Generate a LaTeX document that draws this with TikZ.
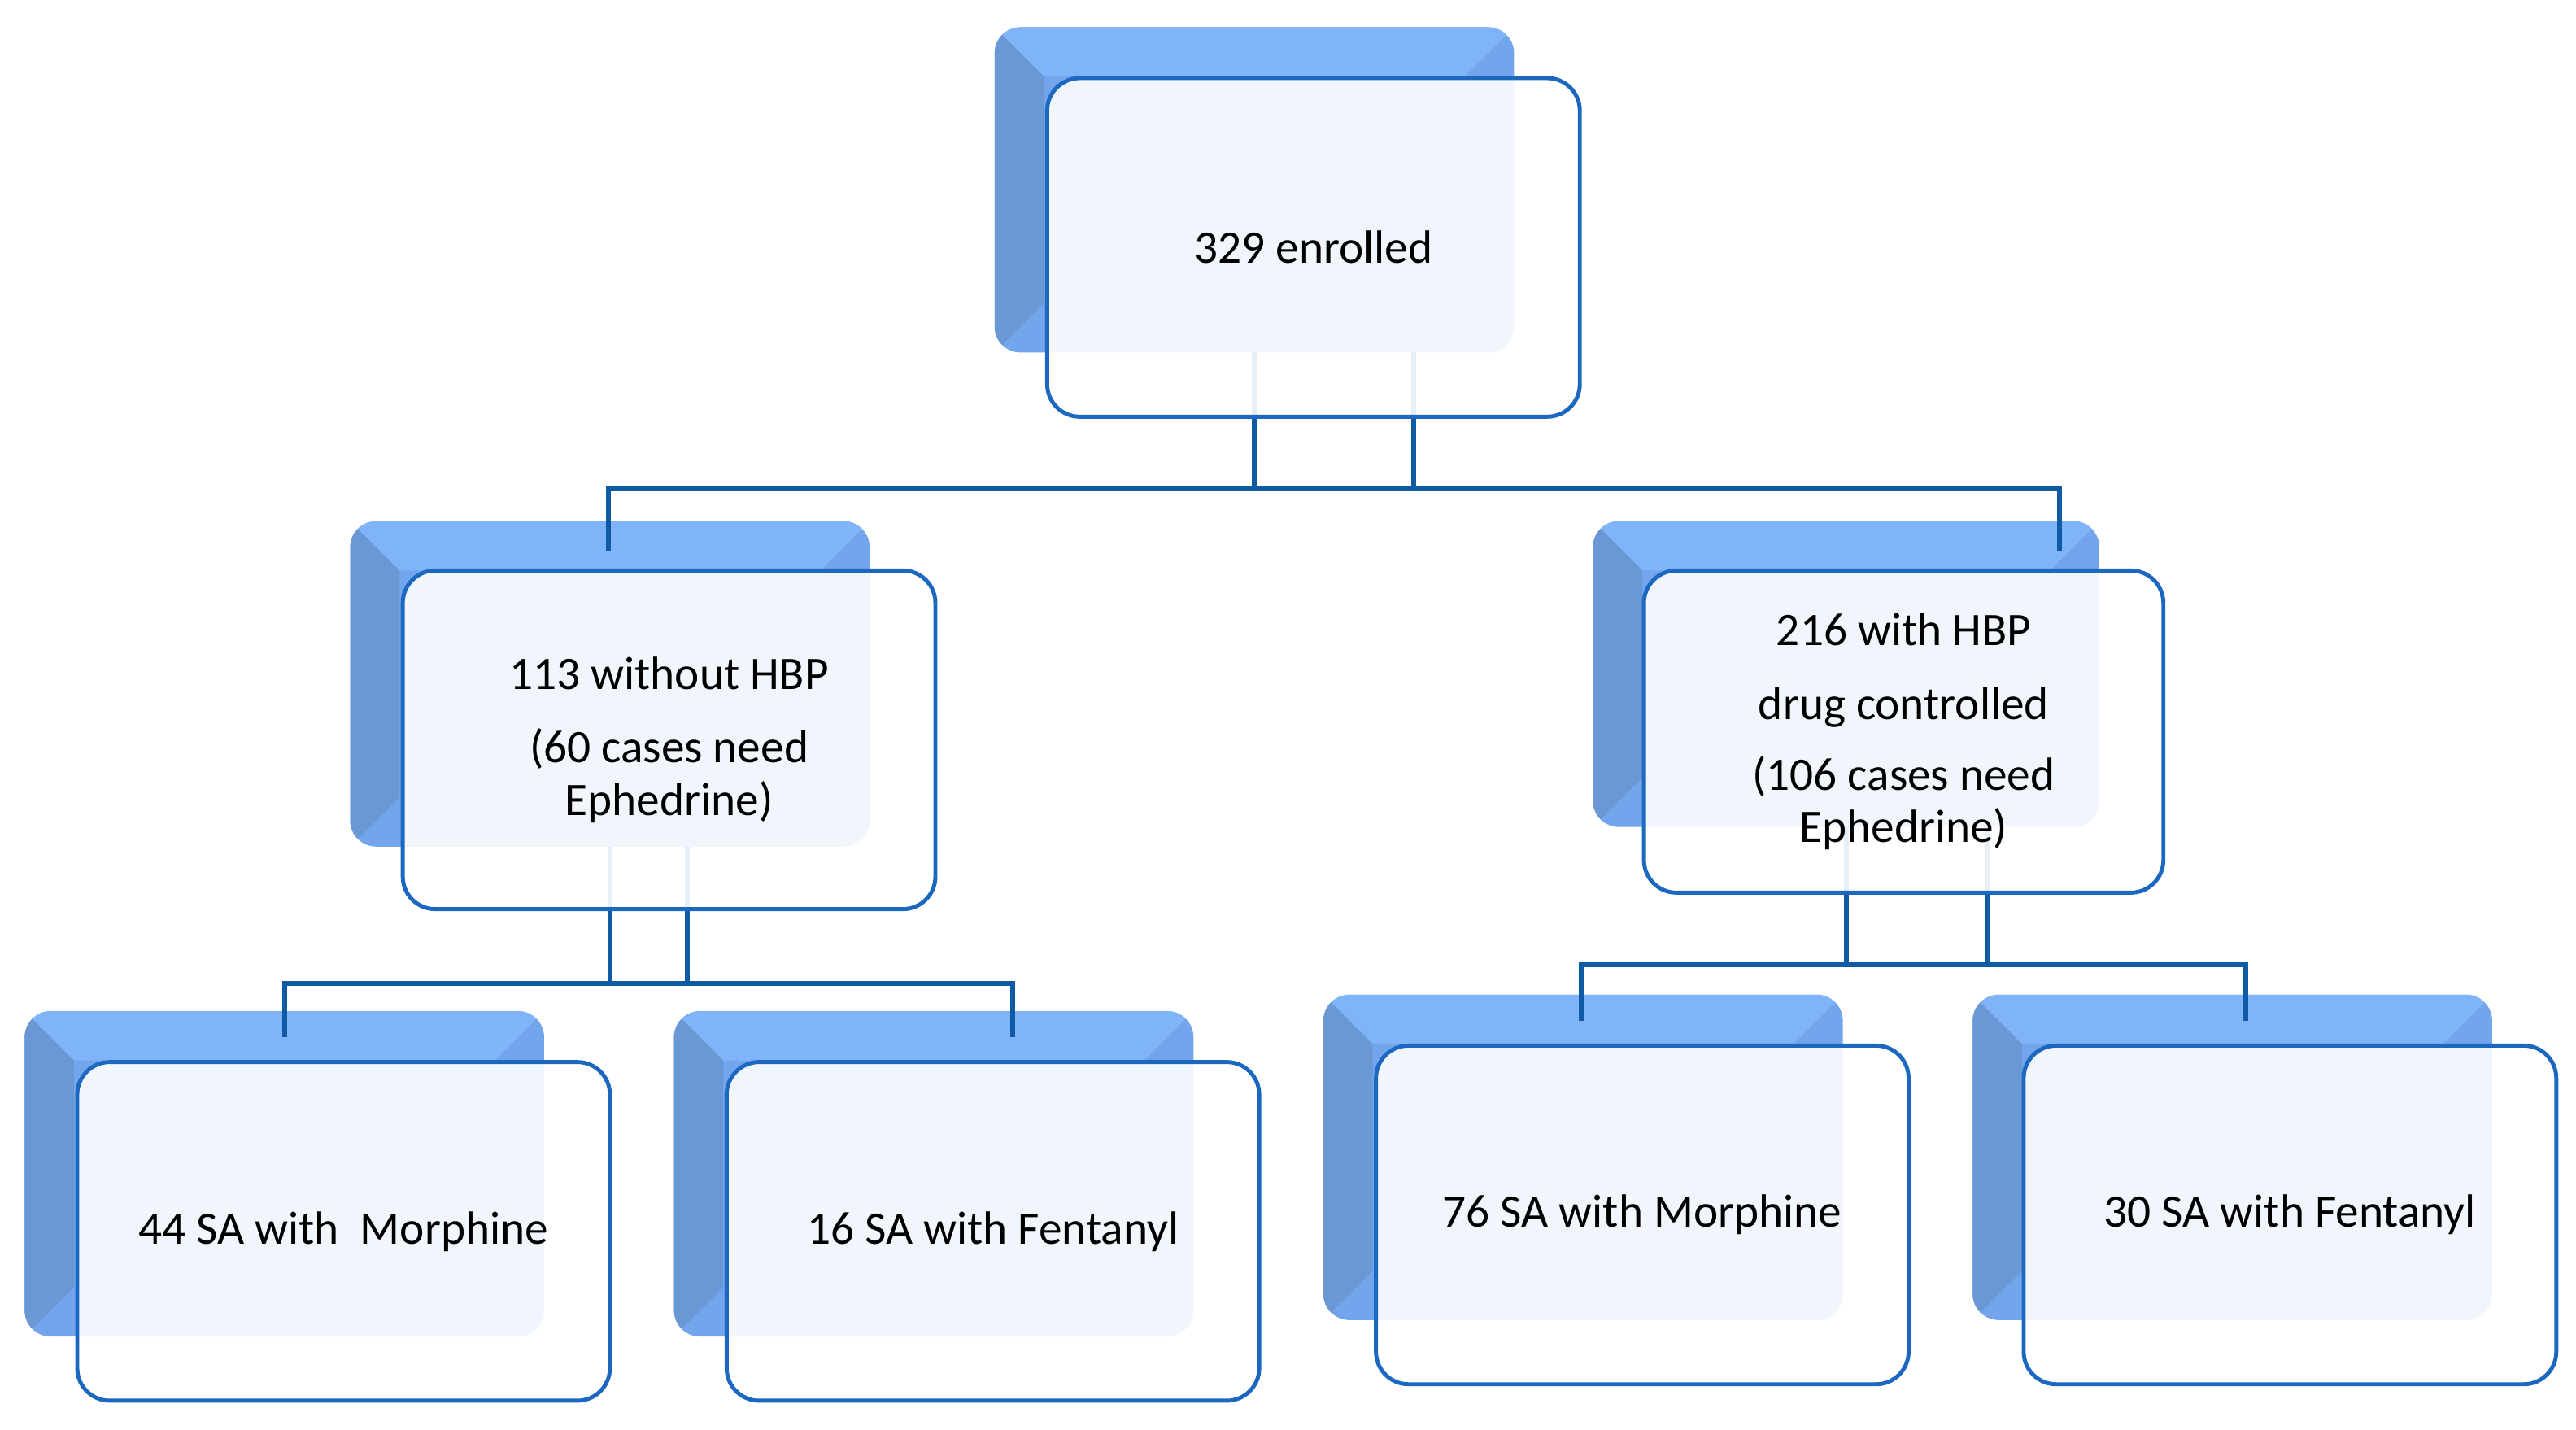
\documentclass[tikz,border=0pt]{standalone}
\usepackage{fontspec}
\setmainfont{Carlito}
\usetikzlibrary{calc}

\definecolor{shTop}{HTML}{80B4F8}
\definecolor{shMid}{HTML}{72A5EC}
\definecolor{shSide}{HTML}{6A98D4}
\definecolor{boxBlue}{HTML}{1C68C0}
\definecolor{linkBlue}{HTML}{0F5AA5}

\newcommand{\boxfont}{\fontsize{16.3}{18.4}\selectfont}

\tikzset{
  back/.style={rounded corners=3.2mm, fill=shMid, inner sep=0pt, outer sep=0pt,
    minimum width=63.86mm, minimum height=40mm,
    path picture={
      \fill[shTop, sharp corners] (path picture bounding box.north west) -- (path picture bounding box.north east)
        -- ($(path picture bounding box.north east)+(-30,30)$) -- ($(path picture bounding box.north west)+(30,30)$) -- cycle;
      \fill[shSide, sharp corners] (path picture bounding box.north west) -- ($(path picture bounding box.north west)+(30,30)$)
        -- ($(path picture bounding box.south west)+(30,-30)$) -- (path picture bounding box.south west) -- cycle;
    }},
  front/.style={rounded corners=4mm, draw=boxBlue, line width=1.4pt, fill=white, fill opacity=0.9,
    text opacity=1, inner sep=0pt, outer sep=0pt, align=center, font=\boxfont,
    minimum width=65.48mm, minimum height=41.63mm},
  link/.style={draw=linkBlue, line width=1.7pt},
}

\begin{document}
\begin{tikzpicture}[x=0.2021mm, y=-0.2021mm]
  \useasboundingbox (0,0) rectangle (1567,869.4);

  % shadow boxes
  \node[back] (topS) at (763,115.5) {};
  \node[back] (midLS) at (371,416) {};
  \node[back, minimum width=62.25mm, minimum height=37.6mm] (midRS) at (1123,410) {};
  \node[back] (bl1S) at (173,714) {};
  \node[back] (bl2S) at (568,714) {};
  \node[back] (br1S) at (963,704) {};
  \node[back] (br2S) at (1358,704) {};

  % connectors
  \coordinate (busT) at ($(topS.south)+(0,83)$);
  \draw[link] (topS.south) -- (busT);
  \draw[link] ($(topS.south)+(97,0)$) -- ($(busT)+(97,0)$);
  \draw[link] ($(midLS.north)+(-1,18)$) |- (busT) -| ($(midRS.north)+(130,18)$);

  \coordinate (busL) at ($(midLS.south)+(0,83)$);
  \draw[link] (midLS.south) -- (busL);
  \draw[link] ($(midLS.south)+(47,0)$) -- ($(busL)+(47,0)$);
  \draw[link] ($(bl1S.north)+(0,16)$) |- (busL) -| ($(bl2S.north)+(48,16)$);

  \coordinate (busR) at ($(midRS.south)+(0,84)$);
  \draw[link] (midRS.south) -- (busR);
  \draw[link] ($(midRS.south)+(86,0)$) -- ($(busR)+(86,0)$);
  \draw[link] ($(br1S.north)+(-1,16)$) |- (busR) -| ($(br2S.north)+(8,16)$);

  % boxes
  \node[front] (top) at (799,150.5) {329 enrolled};
  \node[front] (midL) at (407,450) {113 without HBP\\[7.4pt](60 cases need\\Ephedrine)};
  \node[front, minimum width=63.86mm, minimum height=39.6mm] (midR) at (1158,445)
    {216 with HBP\\[7.5pt]drug controlled\\[6.3pt](106 cases need\\Ephedrine)};
  \node[front] (bl1) at (209,749) {44 SA with\ \ Morphine};
  \node[front] (bl2) at (604,749) {16 SA with Fentanyl};
  \node[front] (br1) at (999,739) {76 SA with Morphine};
  \node[front] (br2) at (1393,739) {30 SA with Fentanyl};
\end{tikzpicture}
\end{document}
